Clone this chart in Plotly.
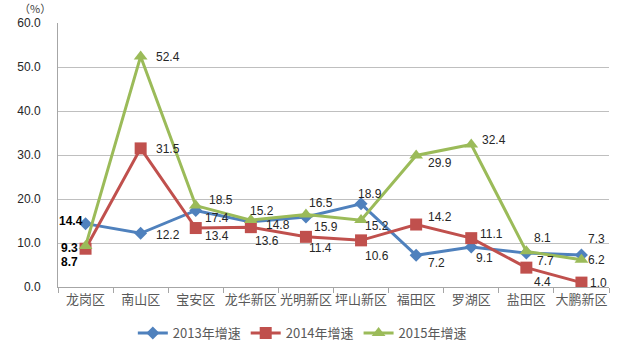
import plotly.graph_objects as go

districts = ["龙岗区", "南山区", "宝安区", "龙华新区", "光明新区", "坪山新区", "福田区", "罗湖区", "盐田区", "大鹏新区"]
growth_2013 = [14.4, 12.2, 17.4, 14.8, 15.9, 18.9, 7.2, 9.1, 7.7, 7.3]
growth_2014 = [8.7, 31.5, 13.4, 13.6, 11.4, 10.6, 14.2, 11.1, 4.4, 1.0]
growth_2015 = [9.3, 52.4, 18.5, 15.2, 16.5, 15.2, 29.9, 32.4, 8.1, 6.2]
series_names = ["2013年增速", "2014年增速", "2015年增速"]
y_ticks = [0, 10, 20, 30, 40, 50, 60]

# label placement (style): (xanchor, xshift, yshift) per point
lbl_2013 = [("right", -1, 3), ("left", 13, -2), ("left", 7, -8), ("left", 13, -3), ("left", 6, -10),
            ("left", -5, 10), ("left", 10, -8), ("left", 3, -11), ("left", 9, -8), ("left", 5, 16)]
lbl_2014 = [("right", -6, -13), ("left", 13, -1), ("left", 7, -8), ("left", 2, -14), ("left", 1, -11),
            ("left", 2, -16), ("left", 10, 8), ("left", 7, 4), ("left", 6, -14), ("left", 7, 0)]
lbl_2015 = [("right", -6, -2), ("left", 13, -1), ("left", 11, 6), ("left", -3, 9), ("left", 1, 11),
            ("left", 2, -6), ("left", 10, -8), ("left", 9, 4), ("left", 6, 13), ("left", 5, 0)]

colors = ["#4F81BD", "#C0504D", "#9BBB59"]
symbols = ["diamond", "square", "triangle-up"]
msizes = [10, 12, 12]

fig = go.Figure()
for name, vals, col, sym, ms in zip(series_names, [growth_2013, growth_2014, growth_2015], colors, symbols, msizes):
    fig.add_trace(go.Scatter(
        x=districts, y=vals, name=name, mode="lines+markers",
        line=dict(color=col, width=3),
        marker=dict(symbol=sym, size=ms, color=col),
    ))

annotations = []
for vals, lbls in zip([growth_2013, growth_2014, growth_2015], [lbl_2013, lbl_2014, lbl_2015]):
    for i, (d, v) in enumerate(zip(districts, vals)):
        xa, xs, ys = lbls[i]
        bold = (i == 0)
        annotations.append(dict(
            x=d, y=v, xref="x", yref="y", text=(f"<b>{v:.1f}</b>" if bold else f"{v:.1f}"),
            showarrow=False, xanchor=xa, yanchor="middle", xshift=xs, yshift=ys,
            font=dict(family="Liberation Sans, Arial", size=12, color="#000000" if bold else "#262626"),
        ))
annotations.append(dict(
    x=(35 - 58) / 551, y=(287 - 8) / 264, xref="paper", yref="paper", text="（%）", showarrow=False,
    xanchor="center", yanchor="middle",
    font=dict(family="Noto Sans CJK SC", size=11, color="#404040"),
))

fig.update_layout(
    width=617, height=363,
    margin=dict(l=58, r=8, t=23, b=76, autoexpand=False),
    plot_bgcolor="white", paper_bgcolor="white",
    showlegend=True,
    legend=dict(orientation="h", xref="container", yref="container", x=0.49, y=1 - 333 / 363,
                xanchor="center", yanchor="middle",
                font=dict(family="Noto Sans CJK SC", size=13, color="#595959"),
                itemwidth=30, tracegroupgap=0),
    annotations=annotations,
)
fig.update_xaxes(
    type="category", range=[-0.5, 9.5], showgrid=False,
    showline=True, linecolor="#A6A6A6", linewidth=1,
    ticks="outside", tickson="boundaries", ticklen=5, tickcolor="#A6A6A6",
    tickangle=0, automargin=False,
    tickfont=dict(family="Noto Sans CJK SC", size=13, color="#595959"),
)
fig.update_yaxes(
    range=[0, 60], tickvals=y_ticks, tickformat=".1f",
    showgrid=True, gridcolor="#BFBFBF", gridwidth=1,
    showline=True, linecolor="#A6A6A6", linewidth=1,
    ticks="", ticklabelstandoff=14, zeroline=False, automargin=False,
    tickfont=dict(family="Liberation Sans, Arial", size=12, color="#262626"),
)

fig.write_html("out.html", config={"displayModeBar": False},
               post_script="document.body.style.margin='0';document.body.style.overflow='hidden';")
